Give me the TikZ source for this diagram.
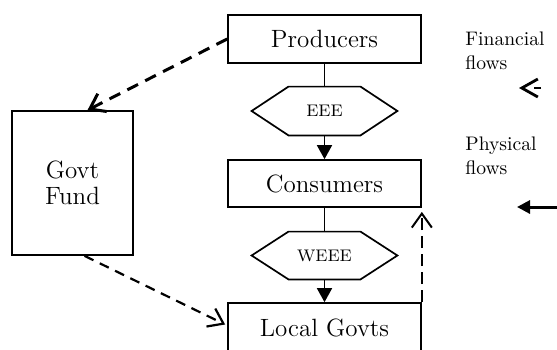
\documentclass[tikz,border=0pt]{standalone}
\usetikzlibrary{calc,arrows.meta}
\begin{document}
\begin{tikzpicture}[x=0.5pt,y=-0.5pt,
  box/.style={draw,line width=0.85pt,inner sep=0pt,font=\fontsize{12.5}{13}\selectfont,align=center},
  hexa/.style={inner sep=0pt,minimum width=72.5pt,minimum height=24pt,font=\fontsize{8.4}{9}\selectfont},
  lgd/.style={anchor=north west,inner sep=0pt,align=left,font=\fontsize{9.8}{12}\selectfont},
  plain/.style={line width=0.85pt},
  phys/.style={line width=0.85pt,-{Triangle[length=7pt,width=7.5pt]}},
  fin/.style={dash pattern=on 5pt off 3.5pt,-{Straight Barb[length=7pt,width=10pt]}},
]
\useasboundingbox (0,0) rectangle (557,349);
\clip (0,0) rectangle (557,349);

\node[box,minimum width=96.5pt,minimum height=24pt] (prod) at (324.5,39) {Producers};
\node[box,minimum width=96.5pt,minimum height=23.5pt] (cons) at (324.5,183.5) {Consumers};
\node[box,minimum width=96.5pt,minimum height=24.5pt] (lg) at (324.5,327.5) {Local Govts};
\node[box,minimum width=60.5pt,minimum height=72pt] (gf) at (72.5,183) {Govt\\Fund};

\node[hexa] (eee) at (324.5,111) {EEE};
\node[hexa,minimum height=23.5pt] (weee) at (324.5,255.5) {WEEE};
\draw[plain] (eee.west) -- ($(eee.north)+(-36,0)$) -- ($(eee.north)+(36,0)$) -- (eee.east)
  -- ($(eee.south)+(36,0)$) -- ($(eee.south)+(-36,0)$) -- cycle;
\draw[plain] (weee.west) -- ($(weee.north)+(-36,0)$) -- ($(weee.north)+(36,0)$) -- (weee.east)
  -- ($(weee.south)+(36,0)$) -- ($(weee.south)+(-36,0)$) -- cycle;

\draw[plain] (prod.south) -- (eee.north);
\draw[phys] (eee.south) -- (cons.north);
\draw[plain] (cons.south) -- (weee.north);
\draw[phys] (weee.south) -- (lg.north);

\draw[fin,line width=1.5pt,dash pattern=on 6pt off 4pt] (prod.west) -- ($(gf.north)+(15,0)$);
\draw[fin,line width=1.1pt] ($(gf.south)+(12,0)$) -- ($(lg.west)+(-2,-3)$);
\draw[fin,line width=1pt,dash pattern=on 6pt off 3pt] (lg.north east) -- ($(cons.south east)+(0,4)$);

\node[lgd] (fintxt) at (465,31) {Financial\\flows};
\node[lgd] (phytxt) at (465,136) {Physical\\flows};
\coordinate (fa) at (580,88);
\coordinate (fb) at (519,88);
\coordinate (pa) at (580,207);
\coordinate (pb) at (517,207);
\draw[line width=1.4pt,dash pattern=on 3.5pt off 50pt,dash phase=34pt,
  -{Straight Barb[length=8pt,width=9pt]}] (fa) -- (fb);
\draw[line width=1.5pt,-{Triangle[length=6.5pt,width=6.5pt]}] (pa) -- (pb);
\end{tikzpicture}
\end{document}
